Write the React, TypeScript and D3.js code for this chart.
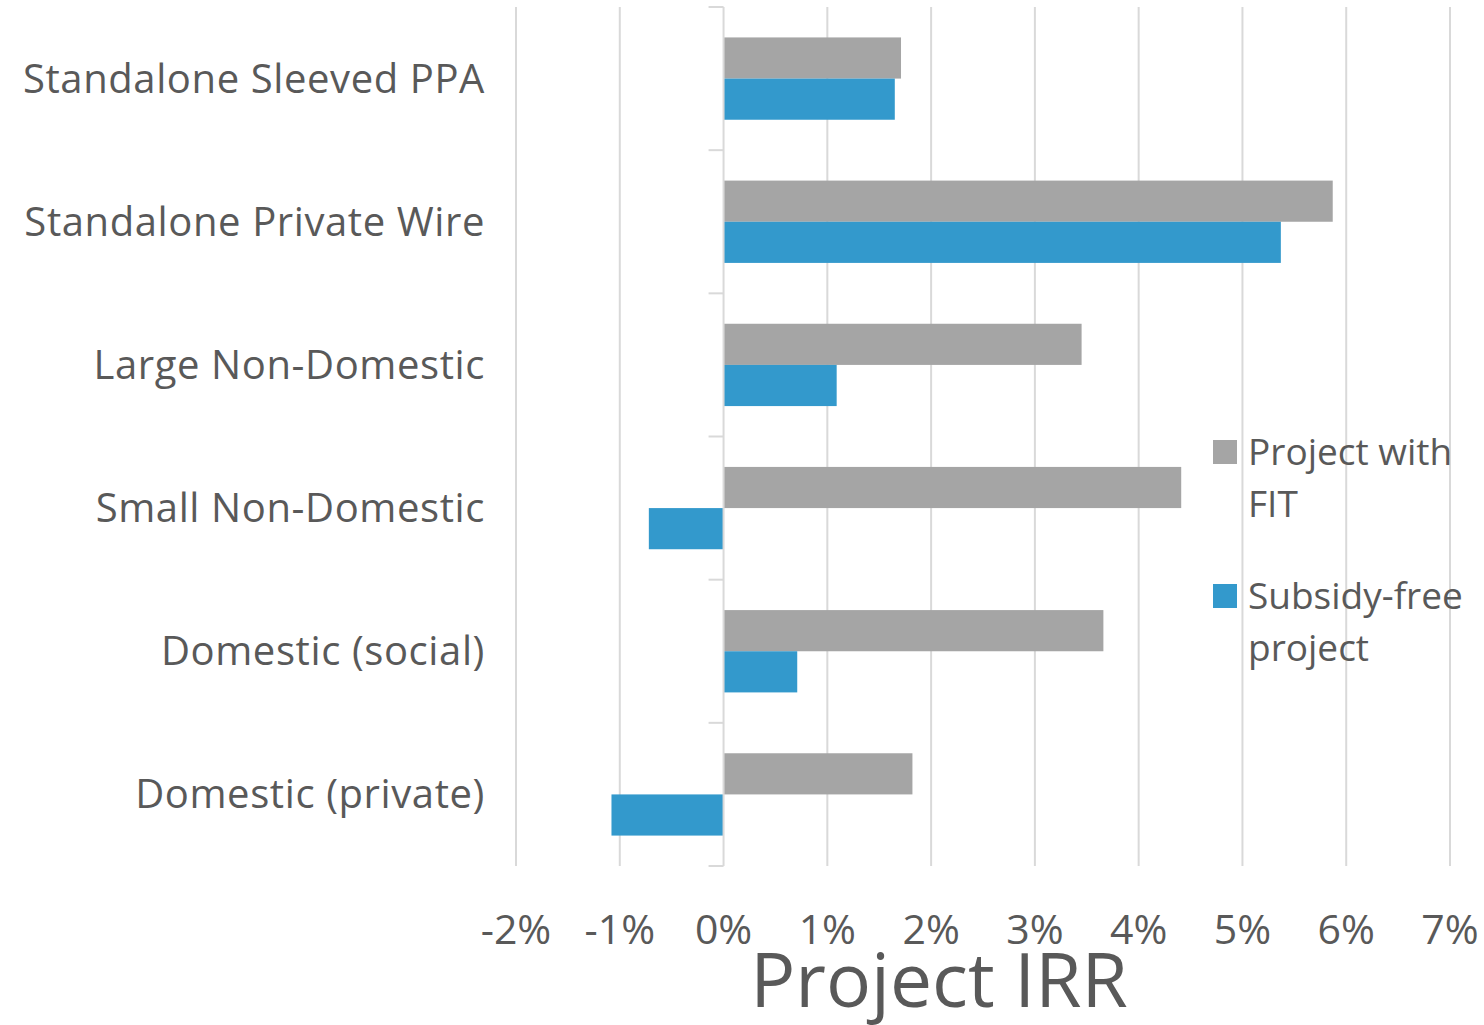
import { useRef, useEffect } from 'react';
import * as d3 from 'd3';

// Project IRR by project type, with and without FIT
const categories = [
  'Standalone Sleeved PPA',
  'Standalone Private Wire',
  'Large Non-Domestic',
  'Small Non-Domestic',
  'Domestic (social)',
  'Domestic (private)',
];
const withFit = [1.71, 5.87, 3.45, 4.41, 3.66, 1.82];
const subsidyFree = [1.65, 5.37, 1.09, -0.72, 0.71, -1.08];
const xTicks = [-2, -1, 0, 1, 2, 3, 4, 5, 6, 7];

const series = [
  { key: 'fit', label: ['Project with', 'FIT'], color: '#a5a5a5', values: withFit },
  { key: 'free', label: ['Subsidy-free', 'project'], color: '#3399cc', values: subsidyFree },
];

const FONT = "'Open Sans', 'Noto Sans', sans-serif";
const TEXT = '#595959';
const GRID = '#d9d9d9';

export default function App() {
  const svgRef = useRef<SVGSVGElement>(null);
  const width = 1484;
  const height = 1025;

  useEffect(() => {
    if (!svgRef.current) return;
    const svg = d3.select(svgRef.current);
    svg.selectAll('*').remove();

    const x = d3.scaleLinear().domain([-2, 7]).range([516, 1450]);
    const y = d3.scaleBand<string>().domain(categories).range([7, 866]).padding(0);
    const inner = d3.scaleBand<string>()
      .domain(series.map((s) => s.key))
      .range([0, y.bandwidth() * 0.575]);
    const groupOffset = (y.bandwidth() - y.bandwidth() * 0.575) / 2;

    // gridlines
    svg.append('g')
      .selectAll('line')
      .data(xTicks.filter((t) => t !== 0))
      .join('line')
      .attr('x1', (d) => x(d))
      .attr('x2', (d) => x(d))
      .attr('y1', 7)
      .attr('y2', 866)
      .attr('stroke', GRID)
      .attr('stroke-width', 2);

    // bars
    series.forEach((s) => {
      svg.append('g')
        .selectAll('rect')
        .data(categories)
        .join('rect')
        .attr('x', (_, i) => x(Math.min(0, s.values[i])))
        .attr('width', (_, i) => Math.abs(x(s.values[i]) - x(0)))
        .attr('y', (c) => (y(c) as number) + groupOffset + (inner(s.key) as number))
        .attr('height', inner.bandwidth())
        .attr('fill', s.color);
    });

    // vertical category axis at 0
    const axis = svg.append('g');
    axis.append('line')
      .attr('x1', x(0)).attr('x2', x(0))
      .attr('y1', 7).attr('y2', 866)
      .attr('stroke', GRID).attr('stroke-width', 2);
    const bounds = [...categories.map((c) => y(c) as number), 866];
    axis.selectAll('line.tick')
      .data(bounds)
      .join('line')
      .attr('class', 'tick')
      .attr('x1', x(0) - 15).attr('x2', x(0))
      .attr('y1', (d) => d).attr('y2', (d) => d)
      .attr('stroke', GRID).attr('stroke-width', 2);

    // category labels
    svg.append('g')
      .selectAll('text')
      .data(categories)
      .join('text')
      .attr('x', 485)
      .attr('y', (c) => (y(c) as number) + y.bandwidth() / 2 + 14)
      .attr('text-anchor', 'end')
      .attr('font-family', FONT)
      .attr('font-size', 40)
      .attr('letter-spacing', 0.6)
      .attr('fill', TEXT)
      .text((c) => c);

    // x tick labels
    svg.append('g')
      .selectAll('text')
      .data(xTicks)
      .join('text')
      .attr('x', (d) => x(d))
      .attr('y', 944)
      .attr('text-anchor', 'middle')
      .attr('font-family', FONT)
      .attr('font-size', 41)
      .attr('fill', TEXT)
      .text((d) => `${d}%`);

    // axis title
    svg.append('text')
      .attr('x', 939)
      .attr('y', 1007)
      .attr('text-anchor', 'middle')
      .attr('font-family', FONT)
      .attr('font-size', 75)
      .attr('fill', TEXT)
      .text('Project IRR');

    // legend
    const legend = svg.append('g');
    series.forEach((s, i) => {
      const top = 440 + i * 144;
      legend.append('rect')
        .attr('x', 1213).attr('y', top)
        .attr('width', 24).attr('height', 24)
        .attr('fill', s.color);
      s.label.forEach((line, j) => {
        legend.append('text')
          .attr('x', 1248)
          .attr('y', top + 25 + j * 52)
          .attr('font-family', FONT)
          .attr('font-size', 37)
          .attr('fill', TEXT)
          .text(line);
      });
    });
  }, []);

  return (
    <svg
      ref={svgRef}
      width={width}
      height={height}
      style={{ display: 'block', position: 'absolute', left: 0, top: 0, background: '#fff' }}
    />
  );
}
